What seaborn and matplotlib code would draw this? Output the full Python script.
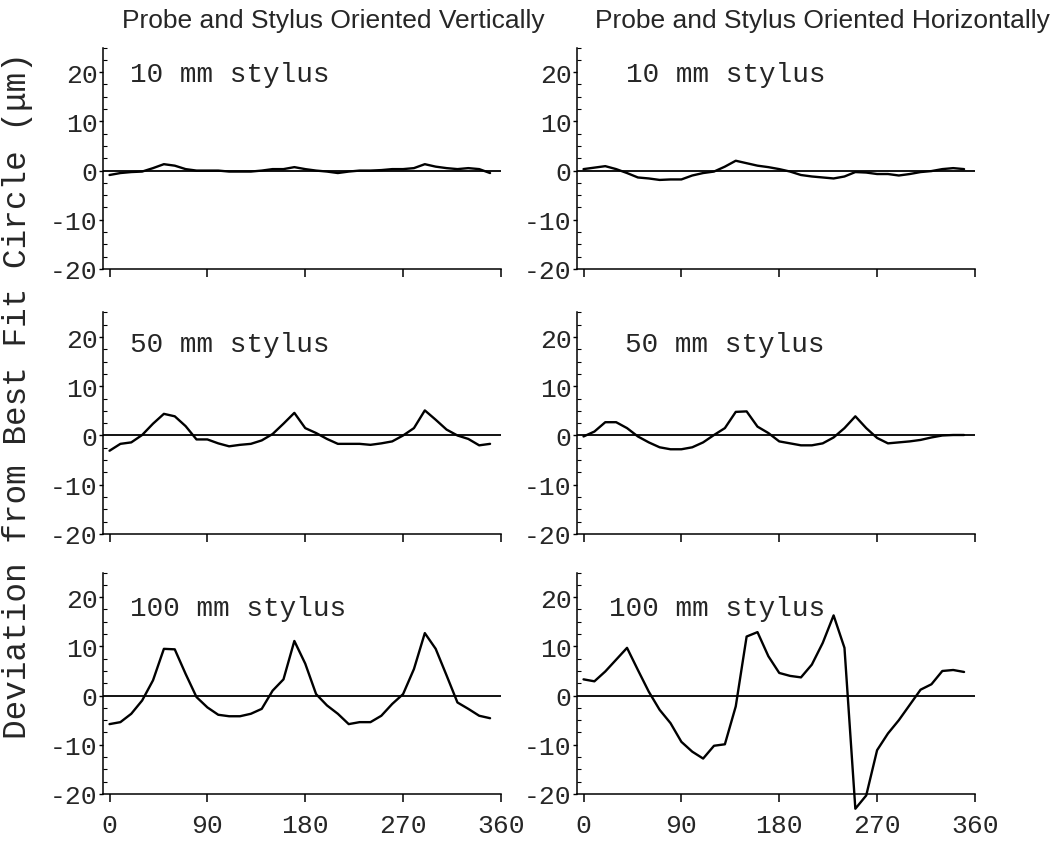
import matplotlib
matplotlib.use("Agg")
import matplotlib.pyplot as plt
from matplotlib.ticker import MultipleLocator
import pandas as pd
import seaborn as sns

# --- Data (10 degree steps) ---
ANGLES = list(range(0, 360, 10))

VERT_10 = [-0.9, -0.5, -0.3, -0.2, 0.5, 1.3, 1.0, 0.3, 0.0, 0.0, 0.0, -0.2,
           -0.2, -0.2, 0.0, 0.3, 0.3, 0.7, 0.3, 0.0, -0.2, -0.5, -0.2, 0.0,
           0.0, 0.1, 0.3, 0.3, 0.5, 1.3, 0.8, 0.5, 0.3, 0.5, 0.3, -0.5]
VERT_50 = [-3.1, -1.7, -1.4, 0.1, 2.4, 4.4, 3.9, 1.9, -0.8, -0.8, -1.6, -2.2,
           -1.9, -1.7, -1.0, 0.3, 2.4, 4.6, 1.5, 0.5, -0.7, -1.7, -1.7, -1.7,
           -1.9, -1.6, -1.2, 0.0, 1.5, 5.1, 3.2, 1.2, 0.0, -0.7, -2.0, -1.7]
VERT_100 = [-5.8, -5.4, -3.7, -1.0, 3.1, 9.5, 9.4, 4.4, -0.3, -2.4, -3.9, -4.2,
            -4.2, -3.7, -2.7, 1.0, 3.3, 11.1, 6.5, 0.3, -2.0, -3.7, -5.8, -5.4,
            -5.4, -4.1, -1.7, 0.3, 5.4, 12.7, 9.5, 4.1, -1.4, -2.7, -4.1, -4.6]

HORIZ_10 = [0.3, 0.6, 0.9, 0.3, -0.5, -1.4, -1.6, -1.9, -1.8, -1.8, -1.0, -0.5,
            -0.2, 0.8, 2.0, 1.5, 1.0, 0.7, 0.3, -0.2, -0.9, -1.2, -1.4, -1.6,
            -1.2, -0.3, -0.4, -0.7, -0.7, -1.0, -0.7, -0.3, -0.1, 0.3, 0.5, 0.3]
HORIZ_50 = [-0.2, 0.8, 2.7, 2.7, 1.5, -0.2, -1.4, -2.4, -2.8, -2.8, -2.4, -1.4,
            0.1, 1.5, 4.8, 4.9, 1.8, 0.5, -1.2, -1.6, -2.0, -2.0, -1.6, -0.4,
            1.5, 3.9, 1.5, -0.5, -1.6, -1.4, -1.2, -0.9, -0.4, 0.0, 0.1, 0.1]
HORIZ_100 = [3.3, 2.9, 4.9, 7.3, 9.7, 5.2, 0.8, -2.9, -5.6, -9.4, -11.4, -12.8,
             -10.2, -9.9, -2.2, 12.0, 12.9, 8.0, 4.6, 4.0, 3.7, 6.3, 10.7, 16.3,
             9.7, -23.0, -20.3, -11.1, -7.7, -5.0, -1.9, 1.2, 2.3, 5.0, 5.2, 4.8]

COLUMN_TITLES = ["Probe and Stylus Oriented Vertically",
                 "Probe and Stylus Oriented Horizontally"]
ROW_LABELS = ["10 mm stylus", "50 mm stylus", "100 mm stylus"]
X_TICKS = [0, 90, 180, 270, 360]
Y_TICKS = [-20, -10, 0, 10, 20]
Y_LABEL = "Deviation from Best Fit Circle (\u03bcm)"

# --- Style ---
sns.set_style("ticks")
plt.rcParams["font.family"] = ["Liberation Mono", "DejaVu Sans Mono"]
plt.rcParams["axes.unicode_minus"] = False

MONO = "Liberation Mono"
SANS = "Liberation Sans"

fig = plt.figure(figsize=(10.64, 8.45), dpi=100)

lefts = [0.0968, 0.5423]
bottoms = [0.6805, 0.367, 0.0592]
width = 0.374
height = 0.262

grid = [[VERT_10, HORIZ_10], [VERT_50, HORIZ_50], [VERT_100, HORIZ_100]]
label_x = [[19, 39], [19, 38], [19, 23]]
label_y = [19.6, 18.6, 17.8]

for r in range(3):
    for c in range(2):
        ax = fig.add_axes([lefts[c], bottoms[r], width, height])
        df = pd.DataFrame({"angle": ANGLES, "dev": grid[r][c]})
        ax.axhline(0, color="black", lw=1.3, zorder=1)
        sns.lineplot(data=df, x="angle", y="dev", ax=ax, color="black",
                     lw=1.7, sort=False, clip_on=False, zorder=3)
        ax.set_xlim(-6, 360)
        ax.set_ylim(-20, 25)
        sns.despine(ax=ax)
        for s in ["left", "bottom"]:
            ax.spines[s].set_linewidth(1.1)
            ax.spines[s].set_color("black")
        ax.set_xticks(X_TICKS)
        ax.set_yticks(Y_TICKS)
        ax.yaxis.set_minor_locator(MultipleLocator(2.5))
        ax.set_yticklabels([str(v) for v in Y_TICKS], family=MONO, fontsize=19)
        if r == 2:
            ax.set_xticklabels([str(v) for v in X_TICKS], family=MONO, fontsize=19)
        else:
            ax.set_xticklabels([])
        ax.tick_params(axis="x", direction="out", length=6, width=1.1, pad=8,
                       color="black")
        ax.tick_params(axis="y", which="major", direction="out", length=3,
                       width=1.0, pad=1, color="black")
        ax.tick_params(axis="y", which="minor", direction="in", length=3,
                       width=0.8, color="black")
        ax.set_xlabel("")
        ax.set_ylabel("")
        ax.text(label_x[r][c], label_y[r], ROW_LABELS[r], family=MONO,
                fontsize=20, va="center", ha="left")

fig.text(0.3134, 0.975, COLUMN_TITLES[0], family=SANS, fontsize=19,
         ha="center", va="center")
fig.text(0.773, 0.975, COLUMN_TITLES[1], family=SANS, fontsize=19,
         ha="center", va="center")
fig.text(0.016, 0.532, Y_LABEL, family=MONO, fontsize=23.5, rotation=90,
         ha="center", va="center")

fig.savefig("out.png", dpi=100, facecolor="white")
